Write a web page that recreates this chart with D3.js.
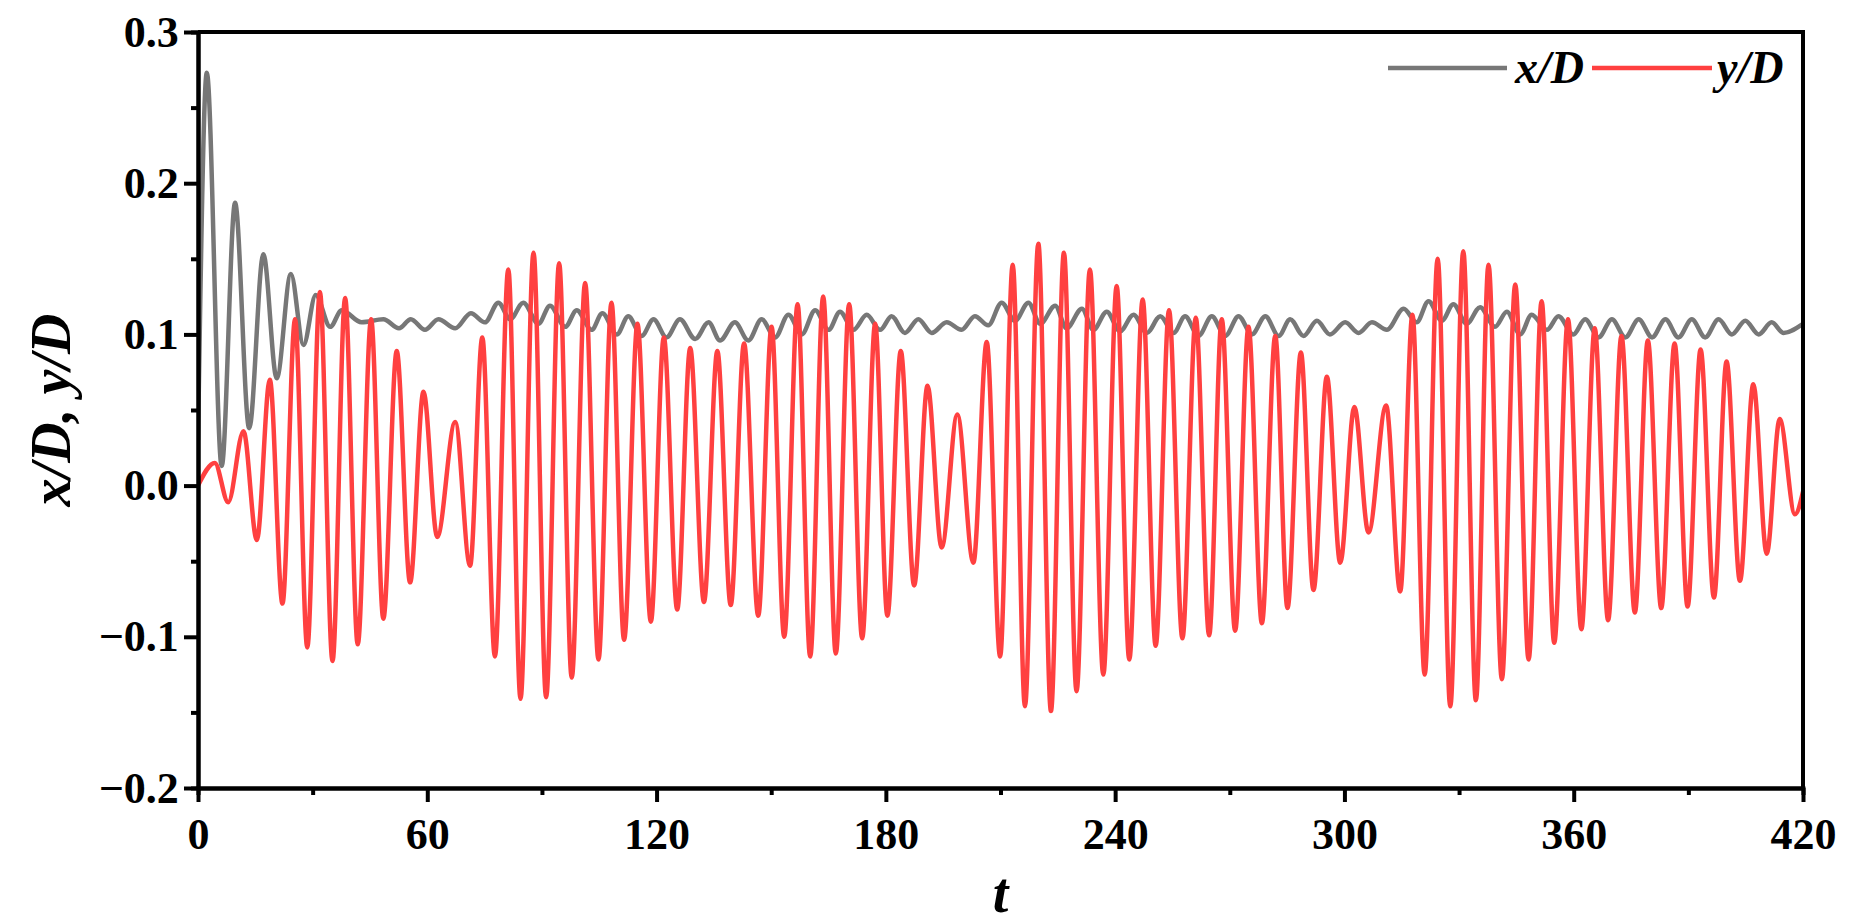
<!DOCTYPE html>
<html><head><meta charset="utf-8">
<script src="https://cdn.jsdelivr.net/npm/d3@7"></script>
<style>body{margin:0;background:#fff}</style>
</head><body>
<svg id="c" width="1855" height="923"></svg>
<script>
// y/D extrema (t, value)
const yT = [0,4.4,7.9,11.9,15.4,18.8,22.1,25.4,28.6,31.9,35.2,38.5,41.8,45.3,48.5,52.0,55.5,59.0,62.6,67.3,71.2,74.4,77.7,81.2,84.4,87.8,91.1,94.5,97.8,101.3,104.8,108.2,111.5,115.0,118.5,121.9,125.4,128.8,132.4,135.9,139.4,142.9,146.6,150.1,153.4,156.9,160.2,163.6,166.9,170.4,173.8,177.2,180.4,183.9,187.4,190.9,194.6,198.7,202.9,206.4,209.9,213.2,216.4,219.9,223.2,226.6,229.9,233.4,236.9,240.4,243.7,247.2,250.6,254.1,257.6,261.1,264.6,267.9,271.4,274.9,278.4,281.9,285.1,288.6,291.9,295.4,298.9,302.6,306.3,310.9,314.6,317.8,321.0,324.4,327.7,331.1,334.4,337.7,341.2,344.7,348.2,351.6,354.9,358.5,362.0,365.5,369.0,372.5,376.0,379.4,382.9,386.4,389.8,393.2,396.7,400.0,403.5,407.0,410.5,413.9,417.9,420];
const yV = [0,0.015,-0.011,0.036,-0.036,0.07,-0.078,0.110,-0.107,0.128,-0.116,0.124,-0.105,0.110,-0.088,0.089,-0.064,0.062,-0.034,0.042,-0.053,0.098,-0.113,0.143,-0.141,0.154,-0.140,0.147,-0.127,0.134,-0.115,0.121,-0.102,0.107,-0.090,0.098,-0.082,0.091,-0.077,0.089,-0.079,0.094,-0.086,0.105,-0.100,0.120,-0.113,0.125,-0.111,0.120,-0.101,0.107,-0.086,0.089,-0.066,0.066,-0.041,0.047,-0.051,0.095,-0.113,0.146,-0.146,0.160,-0.149,0.154,-0.136,0.143,-0.125,0.132,-0.115,0.123,-0.106,0.116,-0.101,0.111,-0.099,0.110,-0.096,0.105,-0.091,0.099,-0.081,0.088,-0.069,0.072,-0.051,0.052,-0.031,0.053,-0.070,0.113,-0.125,0.150,-0.146,0.155,-0.142,0.146,-0.128,0.133,-0.115,0.122,-0.104,0.110,-0.095,0.104,-0.089,0.099,-0.084,0.096,-0.081,0.094,-0.080,0.090,-0.074,0.082,-0.063,0.067,-0.045,0.044,-0.019,-0.004];
// x/D extrema (t, value)
const xT = [0,2.3,6.2,9.7,13.4,17.1,20.6,24.3,27.6,30.8,34.6,37.6,42.8,48.5,52.6,55.7,59.4,62.9,67.3,71.4,75.1,78.6,81.7,85.1,89.1,92.1,96.1,99.1,103.0,105.8,109.6,112.6,116.1,119.2,122.6,126.1,130.1,133.6,136.6,140.5,144.0,147.5,151.0,154.5,158.0,161.5,165.0,168.0,171.5,175.0,178.5,181.5,185.0,188.5,192.0,195.9,199.8,203.3,206.8,210.3,213.8,217.3,220.4,224.3,227.3,231.3,234.3,237.8,241.3,244.8,248.3,251.8,255.3,258.3,261.8,265.3,268.8,272.3,275.8,279.3,282.8,285.8,289.3,292.8,296.2,300.2,303.7,307.2,311.1,315.5,318.9,322.0,325.5,328.5,332.0,335.5,339.4,342.5,346.0,349.0,353.0,356.0,359.9,363.0,366.5,370.0,373.5,377.0,380.5,384.0,387.4,390.9,394.4,397.9,401.4,404.9,408.4,411.8,414.9,420];
const xV = [0.030,0.273,0.013,0.187,0.038,0.153,0.071,0.140,0.093,0.126,0.105,0.116,0.108,0.110,0.104,0.110,0.103,0.110,0.104,0.114,0.108,0.121,0.110,0.121,0.107,0.119,0.105,0.116,0.103,0.114,0.100,0.112,0.099,0.110,0.098,0.110,0.097,0.108,0.096,0.108,0.096,0.110,0.098,0.113,0.100,0.116,0.103,0.115,0.103,0.113,0.103,0.112,0.101,0.110,0.101,0.108,0.103,0.112,0.106,0.121,0.109,0.121,0.107,0.119,0.104,0.117,0.103,0.115,0.102,0.113,0.101,0.112,0.101,0.112,0.099,0.112,0.099,0.112,0.100,0.112,0.099,0.110,0.099,0.109,0.100,0.108,0.101,0.108,0.103,0.117,0.108,0.122,0.109,0.120,0.107,0.118,0.105,0.115,0.100,0.113,0.103,0.112,0.100,0.110,0.098,0.110,0.098,0.110,0.098,0.110,0.098,0.110,0.098,0.110,0.100,0.109,0.100,0.108,0.101,0.107];
const xTicks = [0,60,120,180,240,300,360,420];
const yTicks = [-0.2,-0.1,0.0,0.1,0.2,0.3];
const seriesNames = ["x/D","y/D"];

const svg = d3.select("#c");
const L=198,R=1803,T=32,B=788;
const x = d3.scaleLinear().domain([0,420]).range([L,R]);
const y = d3.scaleLinear().domain([-0.2,0.3]).range([B,T]);
const font = "'Liberation Serif','Times New Roman',serif";
const fmtY = d => d===0?"0.0":d3.format(".1f")(d).replace("-","\u2212");

svg.append("clipPath").attr("id","cp").append("rect").attr("x",L).attr("y",T).attr("width",R-L).attr("height",B-T);
const line = d3.line().curve(d3.curveMonotoneX);
svg.append("path").attr("clip-path","url(#cp)").attr("d",line(xT.map((t,i)=>[x(t),y(xV[i])])))
  .attr("fill","none").attr("stroke","#777").attr("stroke-width",4.5);
svg.append("path").attr("clip-path","url(#cp)").attr("d",line(yT.map((t,i)=>[x(t),y(yV[i])])))
  .attr("fill","none").attr("stroke","#ff4040").attr("stroke-width",4.5);

const gx = svg.append("g").attr("transform",`translate(0,${B})`)
  .call(d3.axisBottom(x).tickValues(xTicks).tickSize(14).tickSizeOuter(0).tickFormat(d3.format("d")));
const gxm = svg.append("g").attr("transform",`translate(0,${B})`)
  .call(d3.axisBottom(x).tickValues(d3.range(30,420,60)).tickSize(7).tickFormat(""));
const gy = svg.append("g").attr("transform",`translate(${L},0)`)
  .call(d3.axisLeft(y).tickValues(yTicks).tickSize(14).tickSizeOuter(0).tickFormat(fmtY));
const gym = svg.append("g").attr("transform",`translate(${L},0)`)
  .call(d3.axisLeft(y).tickValues([-0.15,-0.05,0.05,0.15,0.25]).tickSize(7).tickFormat(""));
[gx,gxm,gy,gym].forEach(g=>{
  g.selectAll(".domain").attr("stroke","#000").attr("stroke-width",4);
  g.selectAll(".tick line").attr("stroke","#000").attr("stroke-width",4);
  g.selectAll("text").attr("font-family",font).attr("font-weight","bold").attr("font-size",44).attr("fill","#000");
});
gx.selectAll("text").attr("dy","1.0em");
gy.selectAll("text").attr("dx","-0.05em");
svg.append("line").attr("x1",L).attr("x2",R).attr("y1",T).attr("y2",T).attr("stroke","#000").attr("stroke-width",4);
svg.append("line").attr("x1",R).attr("x2",R).attr("y1",T-2).attr("y2",B+2).attr("stroke","#000").attr("stroke-width",4);

svg.append("text").attr("x",(L+R)/2).attr("y",912).attr("text-anchor","middle")
  .attr("font-family",font).attr("font-weight","bold").attr("font-style","italic").attr("font-size",56).text("t");
svg.append("text").attr("transform",`translate(70,${(T+B)/2}) rotate(-90)`).attr("text-anchor","middle")
  .attr("font-family",font).attr("font-weight","bold").attr("font-style","italic").attr("font-size",56).text("x/D, y/D");

const lg = [{x1:1388,x2:1507,tx:1515,c:"#777"},{x1:1592,x2:1712,tx:1717,c:"#ff4040"}];
lg.forEach((d,i)=>{
  svg.append("line").attr("x1",d.x1).attr("x2",d.x2).attr("y1",68).attr("y2",68).attr("stroke",d.c).attr("stroke-width",4.5);
  svg.append("text").attr("x",d.tx).attr("y",83).attr("font-family",font).attr("font-weight","bold")
    .attr("font-style","italic").attr("font-size",46).text(seriesNames[i]);
});
</script>
</body></html>
